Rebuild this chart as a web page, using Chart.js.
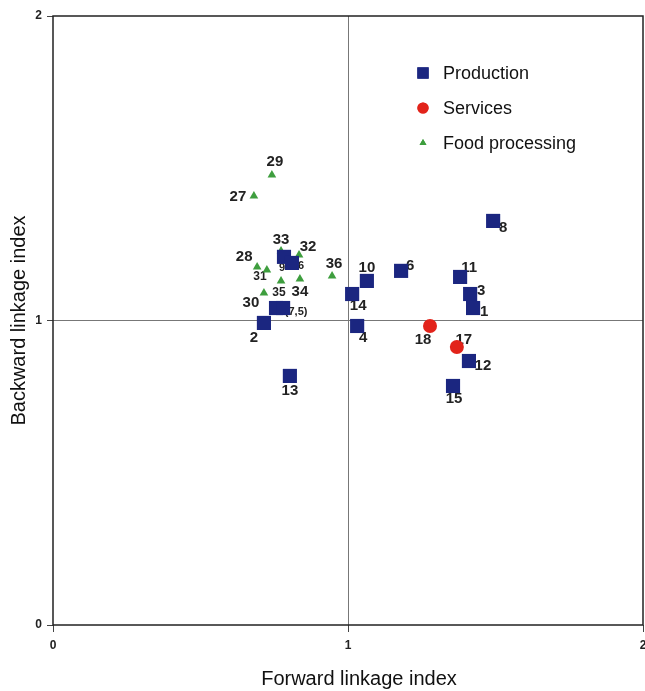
<!DOCTYPE html>
<html>
<head>
<meta charset="utf-8">
<script src="https://cdn.jsdelivr.net/npm/chart.js@4/dist/chart.umd.min.js"></script>
<style>
  html, body { margin: 0; padding: 0; background: #fff; overflow: hidden; }
  #wrap { width: 645px; height: 691px; overflow: hidden; }
</style>
</head>
<body>
<div id="wrap"><canvas id="chart" width="653" height="691"></canvas></div>
<script>
// data

const productionIds = ["8", "6", "11", "3", "1", "10", "14", "4", "12", "15", "2", "13", "7", "5", "9", "16"]
const productionX = [1.492, 1.180, 1.380, 1.414, 1.424, 1.064, 1.014, 1.031, 1.410, 1.356, 0.715, 0.803, 0.756, 0.780, 0.783, 0.810]
const productionY = [1.327, 1.163, 1.143, 1.087, 1.041, 1.130, 1.087, 0.982, 0.867, 0.785, 0.992, 0.818, 1.041, 1.041, 1.209, 1.189]

const servicesIds = ["18", "17"]
const servicesX = [1.278, 1.369]
const servicesY = [0.982, 0.913]

const foodIds = ["29", "27", "33", "32", "28", "31", "35", "34", "30", "36"]
const foodX = [0.742, 0.681, 0.773, 0.834, 0.692, 0.725, 0.773, 0.837, 0.715, 0.946]
const foodY = [1.478, 1.409, 1.228, 1.215, 1.176, 1.166, 1.130, 1.136, 1.090, 1.146]

const xTicks = [0, 1, 2]
const yTicks = [0, 1, 2]

// label text shown next to a point, and where it sits (dx, dy, font size)
const labelText = { "7": "", "5": "(7,5)" }
const labelPlace = {
    "8": [10, 7], "6": [9, -5], "11": [9, -9], "3": [11, -3], "1": [11, 4],
    "10": [0, -13], "14": [6, 12], "4": [6, 12], "12": [14, 5], "15": [1, 13],
    "2": [-10, 15], "13": [0, 15], "5": [13, 4, 11], "9": [-2, 11, 11], "16": [6, 3, 11],
    "18": [-7, 14], "17": [7, -7],
    "29": [3, -13], "27": [-16, 1], "33": [0, -11], "32": [9, -8], "28": [-13, -10],
    "31": [-7, 7, 12], "35": [-2, 12, 12], "34": [0, 13], "30": [-13, 10], "36": [2, -12]
}

const NAVY = "#1b2680"
const RED = "#e2231a"
const GREEN = "#3e9e3e"

function toPoints(xs, ys) {
    return xs.map(function(x, i) { return {x: x, y: ys[i]} })
}

const seriesList = [
    {label: "Production", ids: productionIds, data: toPoints(productionX, productionY), style: "rect", radius: 10, color: NAVY},
    {label: "Services", ids: servicesIds, data: toPoints(servicesX, servicesY), style: "circle", radius: 7, color: RED},
    {label: "Food processing", ids: foodIds, data: toPoints(foodX, foodY), style: "triangle", radius: 5, color: GREEN}
]

const FONT = "Arial, 'Liberation Sans'"

const pointLabels = {
    id: "pointLabels",
    beforeDatasetsDraw(chart) {
        const ctx = chart.ctx
        ctx.save()
        ctx.fillStyle = "#222"
        ctx.textAlign = "center"
        ctx.textBaseline = "middle"
        seriesList.forEach(function(s, di) {
            const meta = chart.getDatasetMeta(di)
            s.ids.forEach(function(id, j) {
                const el = meta.data[j]
                const place = labelPlace[id] || [0, 12]
                const text = labelText[id] !== undefined ? labelText[id] : id
                if (!text) return
                ctx.font = "bold " + (place[2] || 15) + "px " + FONT
                ctx.fillText(text, el.x + place[0], el.y + place[1])
            })
        })
        ctx.restore()
    },
    afterDraw(chart) {
        const ctx = chart.ctx
        const a = chart.chartArea
        ctx.save()
        // frame round the plot
        ctx.strokeStyle = "#222"
        ctx.lineWidth = 1.5
        ctx.strokeRect(a.left, a.top, a.right - a.left, a.bottom - a.top)

        // legend inside the plot
        ctx.font = "18px " + FONT
        ctx.textAlign = "left"
        ctx.textBaseline = "middle"
        const lx = a.left + 370
        let ly = a.top + 57
        seriesList.forEach(function(s) {
            ctx.fillStyle = s.color
            ctx.strokeStyle = s.color
            Chart.helpers.drawPoint(ctx, {pointStyle: s.style, radius: s.style === "triangle" ? 4 : s.radius * 0.8, borderWidth: 0}, lx, ly)
            ctx.fill()
            ctx.fillStyle = "#111"
            ctx.fillText(s.label, lx + 20, ly + 1)
            ly += 35
        })

        // x axis title
        ctx.font = "20px " + FONT
        ctx.textAlign = "center"
        ctx.fillStyle = "#111"
        ctx.fillText("Forward linkage index", 359, 679)
        ctx.restore()
    }
}

function gridColor(c) {
    return c.tick && c.tick.value === 1 ? "#777" : "rgba(0,0,0,0)"
}

let chart = new Chart(document.getElementById("chart").getContext("2d"), {
    type: "scatter",
    data: {
        datasets: seriesList.map(function(s) {
            return {
                label: s.label,
                data: s.data,
                pointStyle: s.style,
                pointRadius: s.radius,
                pointHoverRadius: s.radius,
                backgroundColor: s.color,
                borderColor: s.color,
                borderWidth: 0
            }
        })
    },
    options: {
        responsive: false,
        animation: false,
        layout: { padding: { top: 16, right: 2, left: 0, bottom: 0 } },
        plugins: {
            legend: { display: false },
            tooltip: { enabled: false }
        },
        scales: {
            x: {
                type: "linear",
                min: 0,
                max: 2,
                afterBuildTicks: function(scale) { scale.ticks = xTicks.map(function(v) { return {value: v} }) },
                afterFit: function(scale) { scale.height = 66; scale.paddingLeft = 0; scale.paddingRight = 0 },
                grid: { color: gridColor, lineWidth: 1, tickColor: "#444", tickLength: 7 },
                border: { display: false },
                ticks: { padding: 6, color: "#222", font: { family: FONT, size: 12, weight: "bold" } }
            },
            y: {
                type: "linear",
                min: 0,
                max: 2,
                afterBuildTicks: function(scale) { scale.ticks = yTicks.map(function(v) { return {value: v} }) },
                afterFit: function(scale) { scale.width = 53; scale.paddingTop = 0; scale.paddingBottom = 0 },
                grid: { color: gridColor, lineWidth: 1, tickColor: "#444", tickLength: 6 },
                border: { display: false },
                ticks: { padding: 5, color: "#222", font: { family: FONT, size: 12, weight: "bold" } },
                title: {
                    display: true,
                    text: "Backward linkage index",
                    color: "#111",
                    padding: { top: 7, bottom: 0 },
                    font: { family: FONT, size: 20 }
                }
            }
        }
    },
    plugins: [pointLabels]
})
</script>
</body>
</html>
